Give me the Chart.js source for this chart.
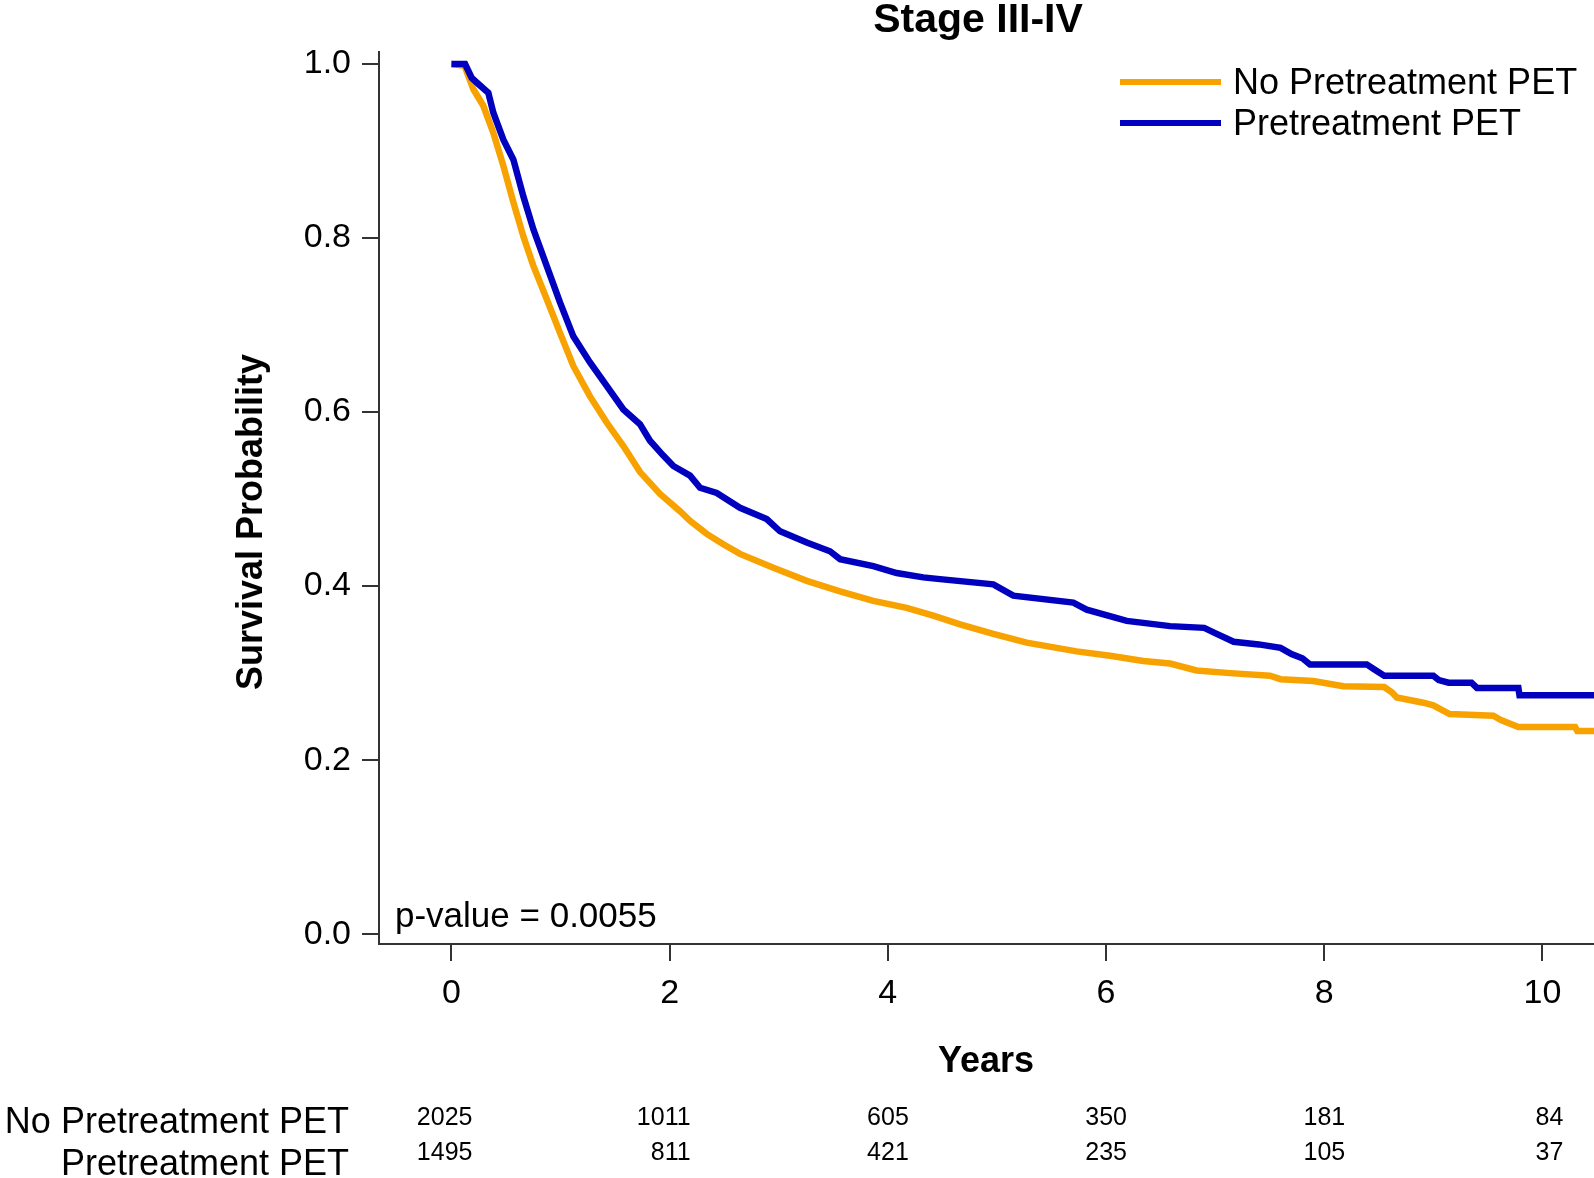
<!DOCTYPE html>
<html>
<head>
<meta charset="utf-8">
<script src="https://cdn.jsdelivr.net/npm/chart.js@4.4.0/dist/chart.umd.min.js"></script>
<style>
  body { margin: 0; background: #fff; }
  canvas { display: block; }
</style>
</head>
<body>
<canvas id="km" width="1594" height="1178"></canvas>
<script>
// Kaplan-Meier curves (years, survival probability)
const noPetTimes = [0, 0.12, 0.201, 0.292, 0.384, 0.476, 0.568, 0.659, 0.751, 0.873, 0.995, 1.117, 1.27, 1.423, 1.576, 1.729, 1.912, 2.095, 2.187, 2.34, 2.492, 2.645, 2.951, 3.257, 3.562, 3.867, 4.173, 4.417, 4.662, 4.967, 5.273, 5.731, 6.037, 6.342, 6.587, 6.83, 7.137, 7.503, 7.6, 7.9, 8.175, 8.55, 8.62, 8.665, 8.909, 9.0, 9.15, 9.55, 9.62, 9.78, 10.3, 10.32, 10.48];
const noPetSurv  = [1, 0.998, 0.971, 0.952, 0.921, 0.883, 0.841, 0.802, 0.768, 0.73, 0.691, 0.653, 0.618, 0.588, 0.561, 0.531, 0.506, 0.486, 0.475, 0.46, 0.448, 0.437, 0.421, 0.406, 0.394, 0.383, 0.375, 0.366, 0.356, 0.345, 0.335, 0.325, 0.32, 0.314, 0.311, 0.303, 0.3, 0.297, 0.293, 0.291, 0.285, 0.284, 0.278, 0.272, 0.266, 0.263, 0.253, 0.251, 0.246, 0.238, 0.238, 0.2335, 0.2335];

const petTimes = [0, 0.125, 0.186, 0.247, 0.338, 0.384, 0.476, 0.568, 0.659, 0.751, 0.873, 0.995, 1.117, 1.27, 1.423, 1.576, 1.729, 1.82, 1.942, 2.034, 2.187, 2.279, 2.432, 2.645, 2.89, 3.012, 3.257, 3.47, 3.562, 3.867, 4.081, 4.325, 4.478, 4.967, 5.15, 5.7, 5.823, 6.19, 6.587, 6.9, 7.0, 7.17, 7.4, 7.6, 7.7, 7.8, 7.87, 8.39, 8.45, 8.55, 9.0, 9.05, 9.14, 9.35, 9.4, 9.78, 9.79, 10.48];
const petSurv  = [1, 1, 0.984, 0.977, 0.967, 0.944, 0.913, 0.89, 0.848, 0.81, 0.768, 0.726, 0.687, 0.657, 0.63, 0.603, 0.586, 0.567, 0.55, 0.538, 0.527, 0.513, 0.507, 0.49, 0.477, 0.463, 0.45, 0.44, 0.431, 0.423, 0.415, 0.41, 0.408, 0.402, 0.389, 0.381, 0.373, 0.36, 0.354, 0.352, 0.346, 0.336, 0.333, 0.329, 0.322, 0.317, 0.31, 0.31, 0.305, 0.297, 0.297, 0.292, 0.289, 0.289, 0.283, 0.283, 0.2745, 0.2745];

const xTicks = [0, 2, 4, 6, 8, 10];
const yTicks = [0, 0.2, 0.4, 0.6, 0.8, 1.0];

// numbers at risk
const riskTimes = [0, 2, 4, 6, 8, 10];
const riskNoPet = [2025, 1011, 605, 350, 181, 84];
const riskPet   = [1495, 811, 421, 235, 105, 37];

const pValueText = 'p-value = 0.0055';

const FONT = '"Liberation Sans", Arial, Helvetica, sans-serif';
const ORANGE = '#F8A200';
const BLUE = '#0000BE';

const series = [
  { label: 'No Pretreatment PET', color: ORANGE, t: noPetTimes, s: noPetSurv, risk: riskNoPet },
  { label: 'Pretreatment PET', color: BLUE, t: petTimes, s: petSurv, risk: riskPet }
];

const extraText = {
  id: 'extraText',
  afterDraw(chart) {
    const ctx = chart.ctx;
    const x = chart.scales.x;
    ctx.save();
    ctx.fillStyle = '#000';
    ctx.textBaseline = 'alphabetic';

    ctx.font = 'bold 41px ' + FONT;
    ctx.textAlign = 'center';
    ctx.fillText('Stage III-IV', 978, 32);

    ctx.font = 'bold 36px ' + FONT;
    ctx.fillText('Years', 986, 1072);

    ctx.save();
    ctx.translate(262, 522);
    ctx.rotate(-Math.PI / 2);
    ctx.fillText('Survival Probability', 0, 0);
    ctx.restore();

    // legend
    series.forEach((sr, i) => {
      const y = 82 + i * 41;
      ctx.strokeStyle = sr.color;
      ctx.lineWidth = 6;
      ctx.beginPath();
      ctx.moveTo(1120, y);
      ctx.lineTo(1221, y);
      ctx.stroke();
      ctx.font = '36px ' + FONT;
      ctx.textAlign = 'left';
      ctx.fillText(sr.label, 1233, y + 12);
    });

    ctx.font = '35px ' + FONT;
    ctx.textAlign = 'left';
    ctx.fillText(pValueText, 395, 927);

    // risk table
    const rowBase = [[1133, 1125], [1175, 1160]];
    series.forEach((sr, i) => {
      ctx.font = '36px ' + FONT;
      ctx.textAlign = 'right';
      ctx.fillText(sr.label, 349, rowBase[i][0]);
      ctx.font = '25px ' + FONT;
      sr.risk.forEach((n, j) => {
        ctx.fillText(String(n), x.getPixelForValue(riskTimes[j]) + 21, rowBase[i][1]);
      });
    });
    ctx.restore();
  }
};

new Chart(document.getElementById('km'), {
  type: 'line',
  data: {
    datasets: series.map((sr, i) => ({
      label: sr.label,
      data: sr.t.map((t, k) => ({ x: t, y: sr.s[k] })),
      borderColor: sr.color,
      backgroundColor: sr.color,
      borderWidth: 6.5,
      pointRadius: 0,
      tension: 0,
      fill: false,
      order: i === 1 ? 0 : 1
    }))
  },
  options: {
    responsive: false,
    animation: false,
    devicePixelRatio: 1,
    layout: { padding: { top: 52, left: 0, right: 0, bottom: 0 } },
    plugins: { legend: { display: false }, title: { display: false }, tooltip: { enabled: false } },
    scales: {
      x: {
        type: 'linear',
        min: -0.664,
        max: 10.473,
        afterBuildTicks: s => { s.ticks = xTicks.map(v => ({ value: v })); },
        afterFit: s => { s.height = 234; },
        ticks: { color: '#000', font: { family: FONT, size: 34 }, padding: 12, maxRotation: 0, autoSkip: false },
        grid: { drawOnChartArea: false, drawTicks: true, tickLength: 17, color: '#333', lineWidth: 2 },
        border: { display: true, color: '#333', width: 2 }
      },
      y: {
        min: -0.0113,
        max: 1.0138,
        afterBuildTicks: s => { s.ticks = yTicks.map(v => ({ value: v })); },
        afterFit: s => { s.width = 379; },
        ticks: { color: '#000', font: { family: FONT, size: 34 }, padding: 11, callback: v => v.toFixed(1) },
        grid: { drawOnChartArea: false, drawTicks: true, tickLength: 17, color: '#333', lineWidth: 2 },
        border: { display: true, color: '#333', width: 2 }
      }
    }
  },
  plugins: [extraText]
});
</script>
</body>
</html>
